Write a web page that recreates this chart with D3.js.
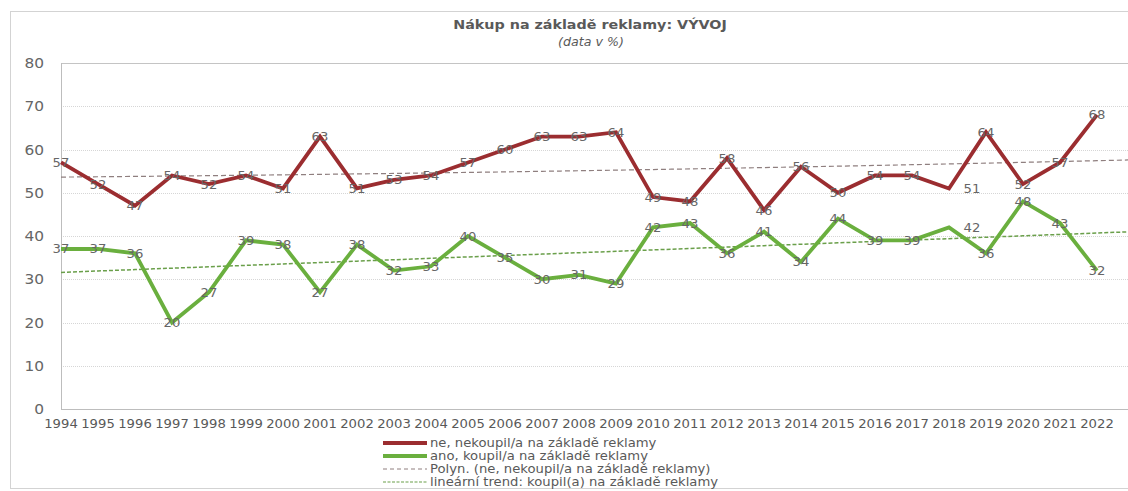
<!DOCTYPE html>
<html>
<head>
<meta charset="utf-8">
<script src="https://cdn.jsdelivr.net/npm/d3@7"></script>
<style>
  body { margin: 0; background: #fff; }
  text { font-family: "DejaVu Sans", sans-serif; fill: #595959; }
</style>
</head>
<body>
<svg width="1128" height="491"></svg>
<script>
// values
var years = [1994,1995,1996,1997,1998,1999,2000,2001,2002,2003,2004,2005,2006,2007,2008,
             2009,2010,2011,2012,2013,2014,2015,2016,2017,2018,2019,2020,2021,2022];
var neKoupil = [57,52,47,54,52,54,51,63,51,53,54,57,60,63,63,64,49,48,58,46,56,50,54,54,51,64,52,57,68];
var anoKoupil = [37,37,36,20,27,39,38,27,38,32,33,40,35,30,31,29,42,43,36,41,34,44,39,39,42,36,48,43,32];
var yTicks = [0,10,20,30,40,50,60,70,80];
var legendLabels = ["ne, nekoupil/a na základě reklamy",
                    "ano, koupil/a na základě reklamy",
                    "Polyn. (ne, nekoupil/a na základě reklamy)",
                    "lineární trend: koupil(a) na základě reklamy"];

var svg = d3.select("svg");
var sx = 1.1; // the source picture is a bit stretched sideways

var plotLeft = 61, plotRight = 1140, plotTop = 63, plotBottom = 409;

var x = d3.scaleLinear().domain([1994, 2022]).range([plotLeft, 1097]);
var y = d3.scaleLinear().domain([0, 80]).range([plotBottom, plotTop]);

function txt(g, px, py, s) {
  return g.append("text")
    .attr("transform", "translate(" + px + "," + py + ") scale(" + sx + ",1)")
    .text(s);
}

// outer dotted frame
svg.append("rect")
  .attr("x", 10.5).attr("y", 11.5).attr("width", 1200).attr("height", 477)
  .attr("fill", "none").attr("stroke", "#a6a6a6").attr("stroke-dasharray", "1,1");

// title
txt(svg, 590, 29, "Nákup na základě reklamy: VÝVOJ")
  .attr("text-anchor", "middle").attr("font-size", "13px").attr("font-weight", "bold");
txt(svg, 591, 46, "(data v %)")
  .attr("text-anchor", "middle").attr("font-size", "11.5px").attr("font-style", "italic");

// gridlines
svg.append("g").selectAll("line")
  .data(yTicks.filter(function(d) { return d > 0 && d < 80; }))
  .enter().append("line")
  .attr("x1", plotLeft).attr("x2", plotRight)
  .attr("y1", function(d) { return Math.round(y(d)) + 0.5; })
  .attr("y2", function(d) { return Math.round(y(d)) + 0.5; })
  .attr("stroke", "#d6d6d6").attr("stroke-dasharray", "1,1");

// plot frame lines
svg.append("line").attr("x1", plotLeft).attr("x2", plotRight)
  .attr("y1", Math.round(y(80)) + 0.5).attr("y2", Math.round(y(80)) + 0.5)
  .attr("stroke", "#c4c4c4");
svg.append("line").attr("x1", plotLeft).attr("x2", plotRight)
  .attr("y1", y(0) + 0.5).attr("y2", y(0) + 0.5)
  .attr("stroke", "#bdbdbd");
svg.append("line").attr("x1", plotLeft + 0.5).attr("x2", plotLeft + 0.5)
  .attr("y1", y(80)).attr("y2", y(0))
  .attr("stroke", "#bdbdbd");

// y axis labels
var yAxis = svg.append("g");
yTicks.forEach(function(t) {
  txt(yAxis, 44, y(t) + 5, t).attr("text-anchor", "end").attr("font-size", "14px")
    .style("fill", "#666");
});

// x axis labels
var xAxis = svg.append("g");
years.forEach(function(yr) {
  txt(xAxis, x(yr), 428, yr).attr("text-anchor", "middle").attr("font-size", "12px");
});

// trend lines
function polyFit(vals, deg) {
  var n = deg + 1, A = [], b = [];
  for (var r = 0; r < n; r++) {
    A.push([]); b.push(0);
    for (var c = 0; c < n; c++) A[r].push(0);
  }
  vals.forEach(function(v, i) {
    var t = i + 1;
    for (var r = 0; r < n; r++) {
      b[r] += v * Math.pow(t, r);
      for (var c = 0; c < n; c++) A[r][c] += Math.pow(t, r + c);
    }
  });
  for (var k = 0; k < n; k++) {
    for (var r = k + 1; r < n; r++) {
      var f = A[r][k] / A[k][k];
      for (var c = k; c < n; c++) A[r][c] -= f * A[k][c];
      b[r] -= f * b[k];
    }
  }
  var coef = new Array(n);
  for (var k = n - 1; k >= 0; k--) {
    var s = b[k];
    for (var c = k + 1; c < n; c++) s -= A[k][c] * coef[c];
    coef[k] = s / A[k][k];
  }
  return function(i) {
    var t = i + 1, s = 0;
    for (var k = 0; k < n; k++) s += coef[k] * Math.pow(t, k);
    return s;
  };
}

var redTrend = polyFit(neKoupil, 2);
var greenTrend = polyFit(anoKoupil, 1);
var trendSteps = d3.range(0, 30.01, 0.5);

var trendLine = d3.line()
  .x(function(d) { return x(1994 + d[0]); })
  .y(function(d) { return y(d[1]); });

var redTrendColor = "#8f7f7f", greenTrendColor = "#6a9f4a";

svg.append("path")
  .attr("d", trendLine(trendSteps.map(function(i) { return [i, redTrend(i)]; })))
  .attr("fill", "none").attr("stroke", redTrendColor).attr("stroke-width", 1.2)
  .attr("stroke-dasharray", "5,3");
svg.append("path")
  .attr("d", trendLine(trendSteps.map(function(i) { return [i, greenTrend(i)]; })))
  .attr("fill", "none").attr("stroke", greenTrendColor).attr("stroke-width", 1.5)
  .attr("stroke-dasharray", "4,2");

// series lines
var line = d3.line()
  .x(function(d, i) { return x(years[i]); })
  .y(function(d) { return y(d); });

var red = "#9b2d30", green = "#6aaf3e";

svg.append("path").attr("d", line(neKoupil))
  .attr("fill", "none").attr("stroke", red).attr("stroke-width", 3.8)
  .attr("stroke-linejoin", "miter");
svg.append("path").attr("d", line(anoKoupil))
  .attr("fill", "none").attr("stroke", green).attr("stroke-width", 3.8)
  .attr("stroke-linejoin", "miter");

// data labels (2018 labels sit to the right of the point)
var labelShift = {2018: 23};
function labels(vals) {
  var g = svg.append("g");
  vals.forEach(function(v, i) {
    var dx = labelShift[years[i]] || 0;
    txt(g, x(years[i]) + dx, y(v) + 4.5, v)
      .attr("text-anchor", "middle").attr("font-size", "12px")
      .style("fill", "#666");
  });
}
labels(neKoupil);
labels(anoKoupil);

// legend
var lg = svg.append("g");
var rowY = [443, 456, 469, 482];
var legStyle = [
  {c: red, w: 3.8, dash: null},
  {c: green, w: 3.8, dash: null},
  {c: redTrendColor, w: 1, dash: "4,3"},
  {c: greenTrendColor, w: 1.2, dash: "3,1.5"}
];
legendLabels.forEach(function(s, i) {
  lg.append("line")
    .attr("x1", 383).attr("x2", 427).attr("y1", rowY[i]).attr("y2", rowY[i])
    .attr("stroke", legStyle[i].c).attr("stroke-width", legStyle[i].w)
    .attr("stroke-dasharray", legStyle[i].dash);
  txt(lg, 430, rowY[i] + 4, s).attr("font-size", "12px");
});
</script>
</body>
</html>
